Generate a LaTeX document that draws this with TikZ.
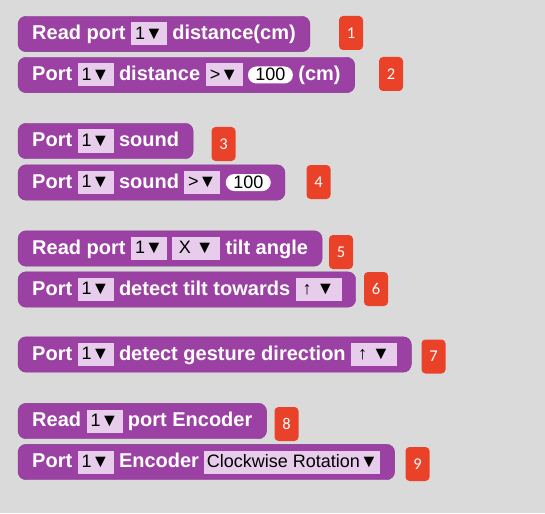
\documentclass[tikz,border=0pt]{standalone}
\usepackage{fontspec}
\setmainfont{Liberation Sans}
\newfontfamily\badgefont{Carlito}
\usetikzlibrary{positioning,fit,backgrounds}

\definecolor{blkfill}{HTML}{9C41A4}
\definecolor{blkline}{HTML}{873490}
\definecolor{fldfill}{HTML}{E7CDEB}
\definecolor{badgered}{HTML}{EA4129}
\definecolor{bggray}{HTML}{DADADA}

\tikzset{
  blk/.style={draw=blkline, fill=blkfill, rounded corners=8pt, inner xsep=14pt, inner ysep=6pt},
  lbl/.style={text=white, font=\fontsize{20}{20}\selectfont\bfseries, inner sep=0pt,
    text height=14.3pt, text depth=2.6pt, minimum height=23pt},
  fld/.style={fill=fldfill, font=\fontsize{18}{18}\selectfont, inner sep=0pt,
    text height=12.9pt, text depth=2.6pt, minimum height=23pt, minimum width=36pt},
  val/.style={fill=white, rounded corners=8.5pt, font=\fontsize{18}{18}\selectfont, inner sep=0pt,
    text height=12.9pt, text depth=1pt, minimum height=17pt, minimum width=45pt},
  badge/.style={fill=badgered, rounded corners=4pt, minimum width=24pt, minimum height=34pt,
    inner sep=0pt, text=white, font=\fontsize{16.5}{16.5}\selectfont\badgefont}
}

\begin{document}
\begin{tikzpicture}[x=1pt,y=-1pt,node distance=5pt]
    \useasboundingbox (0,0) rectangle (545,513);
    % block 1
    \node[lbl, anchor=west] (r1a) at (32,34) {Read port};
    \node[fld, right=of r1a] (r1b) {1▼};
    \node[lbl, right=of r1b] (r1c) {distance(cm)};
    % block 2
    \node[lbl, anchor=west] (r2a) at (32,75) {Port};
    \node[fld, right=of r2a] (r2b) {1▼};
    \node[lbl, right=of r2b] (r2c) {distance};
    \node[fld, minimum width=37pt, right=of r2c] (r2d) {>▼};
    \node[val, right=of r2d] (r2e) {100};
    \node[lbl, right=of r2e] (r2f) {(cm)};
    % block 3
    \node[lbl, anchor=west] (r3a) at (32,141) {Port};
    \node[fld, right=of r3a] (r3b) {1▼};
    \node[lbl, right=of r3b] (r3c) {sound};
    % block 4
    \node[lbl, anchor=west] (r4a) at (32,182.5) {Port};
    \node[fld, right=of r4a] (r4b) {1▼};
    \node[lbl, right=of r4b] (r4c) {sound};
    \node[fld, right=of r4c] (r4d) {>▼};
    \node[val, right=of r4d] (r4e) {100};
    % block 5
    \node[lbl, anchor=west] (r5a) at (32,248.5) {Read port};
    \node[fld, right=of r5a] (r5b) {1▼};
    \node[fld, minimum width=48pt, right=of r5b] (r5c) {X ▼};
    \node[lbl, right=of r5c] (r5d) {tilt angle};
    % block 6
    \node[lbl, anchor=west] (r6a) at (32,289.5) {Port};
    \node[fld, right=of r6a] (r6b) {1▼};
    \node[lbl, right=of r6b] (r6c) {detect tilt towards};
    \node[fld, minimum width=46pt, right=of r6c] (r6d) {↑ ▼};
    % block 7
    \node[lbl, anchor=west] (r7a) at (32,354.5) {Port};
    \node[fld, right=of r7a] (r7b) {1▼};
    \node[lbl, right=of r7b] (r7c) {detect gesture direction};
    \node[fld, minimum width=46pt, right=of r7c] (r7d) {↑ ▼};
    % block 8
    \node[lbl, anchor=west] (r8a) at (32,421) {Read};
    \node[fld, right=of r8a] (r8b) {1▼};
    \node[lbl, right=of r8b] (r8c) {port Encoder};
    % block 9
    \node[lbl, anchor=west] (r9a) at (32,462) {Port};
    \node[fld, right=of r9a] (r9b) {1▼};
    \node[lbl, right=of r9b] (r9c) {Encoder};
    \node[fld, minimum width=176pt, right=of r9c] (r9d) {Clockwise Rotation▼};

    \begin{scope}[on background layer]
        \fill[bggray] (0,0) rectangle (545,513);
        \node[blk, fit=(r1a)(r1c)] (b1) {};
        \node[blk, fit=(r2a)(r2f)] (b2) {};
        \node[blk, fit=(r3a)(r3c)] (b3) {};
        \node[blk, fit=(r4a)(r4e)] (b4) {};
        \node[blk, fit=(r5a)(r5d)] (b5) {};
        \node[blk, fit=(r6a)(r6d)] (b6) {};
        \node[blk, fit=(r7a)(r7d)] (b7) {};
        \node[blk, fit=(r8a)(r8c)] (b8) {};
        \node[blk, fit=(r9a)(r9d)] (b9) {};
    \end{scope}

    % number tags
    \node[badge] (n1) at (351,33) {1};
    \node[badge] (n2) at (391,74) {2};
    \node[badge] (n3) at (223.5,144) {3};
    \node[badge] (n4) at (318.5,182) {4};
    \node[badge] (n5) at (341,252) {5};
    \node[badge] (n6) at (376,289) {6};
    \node[badge] (n7) at (433.5,356.5) {7};
    \node[badge] (n8) at (286.5,424) {8};
    \node[badge] (n9) at (417.5,464) {9};
\end{tikzpicture}
\end{document}
